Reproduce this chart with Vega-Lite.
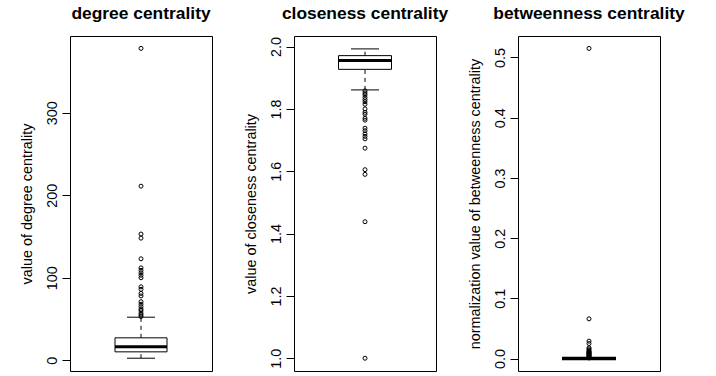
{
  "$schema": "https://vega.github.io/schema/vega-lite/v6.json",
  "background": "white",
  "padding": {"left": 18, "top": 4, "right": 0, "bottom": 0},
  "spacing": 82,
  "bounds": "flush",
  "config": {
    "font": "Liberation Sans",
    "view": {"stroke": "black", "strokeWidth": 1},
    "axisY": {
      "domain": false, "grid": false, "ticks": true, "tickSize": 8, "tickColor": "black", "tickWidth": 1,
      "labelAngle": 270, "labelAlign": "center", "labelBaseline": "alphabetic", "labelPadding": 6,
      "labelFontSize": 14.4, "labelColor": "black", "labelFont": "Liberation Sans", "labelFlush": false, "labelOverlap": false,
      "titleFontSize": 14.4, "titleFontWeight": "normal", "titleColor": "black", "titleFont": "Liberation Sans",
      "titlePadding": 14, "titleBaseline": "alphabetic", "minExtent": 25, "maxExtent": 25
    },
    "title": {"fontSize": 17.4, "fontWeight": "bold", "color": "black", "anchor": "middle", "frame": "group", "baseline": "alphabetic", "offset": 14, "font": "Liberation Sans"}
  },
  "datasets": {
    "degBox": [{"var": "degree", "q1": 10.2, "median": 16.3, "q3": 27.2, "lo": 2.5, "hi": 52.2}],
    "degOut": [
      {"var": "degree", "value": 378}, {"var": "degree", "value": 211}, {"var": "degree", "value": 153}, {"var": "degree", "value": 148},
      {"var": "degree", "value": 123}, {"var": "degree", "value": 112}, {"var": "degree", "value": 109}, {"var": "degree", "value": 106},
      {"var": "degree", "value": 103}, {"var": "degree", "value": 100}, {"var": "degree", "value": 89}, {"var": "degree", "value": 86},
      {"var": "degree", "value": 81}, {"var": "degree", "value": 78}, {"var": "degree", "value": 71}, {"var": "degree", "value": 68},
      {"var": "degree", "value": 65}, {"var": "degree", "value": 62}, {"var": "degree", "value": 60}, {"var": "degree", "value": 57},
      {"var": "degree", "value": 55}, {"var": "degree", "value": 53}
    ],
    "cloBox": [{"var": "closeness", "q1": 1.927, "median": 1.955, "q3": 1.971, "lo": 1.861, "hi": 1.9926}],
    "cloOut": [
      {"var": "closeness", "value": 1.858}, {"var": "closeness", "value": 1.851}, {"var": "closeness", "value": 1.845}, {"var": "closeness", "value": 1.837},
      {"var": "closeness", "value": 1.830}, {"var": "closeness", "value": 1.823}, {"var": "closeness", "value": 1.815}, {"var": "closeness", "value": 1.800},
      {"var": "closeness", "value": 1.789}, {"var": "closeness", "value": 1.783}, {"var": "closeness", "value": 1.770}, {"var": "closeness", "value": 1.764},
      {"var": "closeness", "value": 1.738}, {"var": "closeness", "value": 1.730}, {"var": "closeness", "value": 1.720}, {"var": "closeness", "value": 1.712},
      {"var": "closeness", "value": 1.704}, {"var": "closeness", "value": 1.674}, {"var": "closeness", "value": 1.605}, {"var": "closeness", "value": 1.590},
      {"var": "closeness", "value": 1.438}, {"var": "closeness", "value": 1.0}
    ],
    "betBox": [{"var": "betweenness", "q1": 0, "median": 0, "q3": 0, "lo": 0, "hi": 0}],
    "betOut": [
      {"var": "betweenness", "value": 0.515}, {"var": "betweenness", "value": 0.066}, {"var": "betweenness", "value": 0.029}, {"var": "betweenness", "value": 0.025},
      {"var": "betweenness", "value": 0.018}, {"var": "betweenness", "value": 0.016}, {"var": "betweenness", "value": 0.014}, {"var": "betweenness", "value": 0.012},
      {"var": "betweenness", "value": 0.011}, {"var": "betweenness", "value": 0.010}, {"var": "betweenness", "value": 0.009}, {"var": "betweenness", "value": 0.008},
      {"var": "betweenness", "value": 0.007}, {"var": "betweenness", "value": 0.006}, {"var": "betweenness", "value": 0.005}, {"var": "betweenness", "value": 0.004},
      {"var": "betweenness", "value": 0.003}, {"var": "betweenness", "value": 0.002}, {"var": "betweenness", "value": 0.001}
    ]
  },
  "hconcat": [
    {
      "width": 142, "height": 335,
      "title": "degree centrality",
      "layer": [
        {"data": {"name": "degBox"}, "mark": {"type": "rule", "strokeDash": [4, 4], "color": "black"},
         "encoding": {"x": {"field": "var", "type": "nominal", "scale": {"type": "point"}, "axis": null},
                      "y": {"field": "q3", "type": "quantitative", "title": "value of degree centrality", "scale": {"domain": [-13, 393], "nice": false, "zero": false}, "axis": {"values": [0, 100, 200, 300], "format": "d"}},
                      "y2": {"field": "hi"}}},
        {"data": {"name": "degBox"}, "mark": {"type": "rule", "strokeDash": [4, 4], "color": "black"},
         "encoding": {"x": {"field": "var", "type": "nominal", "scale": {"type": "point"}, "axis": null},
                      "y": {"field": "lo", "type": "quantitative", "title": "value of degree centrality"}, "y2": {"field": "q1"}}},
        {"data": {"name": "degBox"}, "mark": {"type": "tick", "size": 28, "thickness": 1, "color": "black", "opacity": 1},
         "encoding": {"x": {"field": "var", "type": "nominal", "scale": {"type": "point"}, "axis": null},
                      "y": {"field": "hi", "type": "quantitative", "title": "value of degree centrality"}}},
        {"data": {"name": "degBox"}, "mark": {"type": "tick", "size": 28, "thickness": 1, "color": "black", "opacity": 1},
         "encoding": {"x": {"field": "var", "type": "nominal", "scale": {"type": "point"}, "axis": null},
                      "y": {"field": "lo", "type": "quantitative", "title": "value of degree centrality"}}},
        {"data": {"name": "degBox"}, "mark": {"type": "bar", "width": 52, "fill": "white", "stroke": "black", "strokeWidth": 1},
         "encoding": {"x": {"field": "var", "type": "nominal", "scale": {"type": "point"}, "axis": null},
                      "y": {"field": "q1", "type": "quantitative", "title": "value of degree centrality"}, "y2": {"field": "q3"}}},
        {"data": {"name": "degBox"}, "mark": {"type": "tick", "size": 52, "thickness": 3, "color": "black", "opacity": 1},
         "encoding": {"x": {"field": "var", "type": "nominal", "scale": {"type": "point"}, "axis": null},
                      "y": {"field": "median", "type": "quantitative", "title": "value of degree centrality"}}},
        {"data": {"name": "degOut"}, "mark": {"type": "point", "shape": "circle", "filled": false, "color": "black", "size": 16, "strokeWidth": 1, "opacity": 1},
         "encoding": {"x": {"field": "var", "type": "nominal", "scale": {"type": "point"}, "axis": null},
                      "y": {"field": "value", "type": "quantitative", "title": "value of degree centrality"}}}
      ]
    },
    {
      "width": 142, "height": 335,
      "title": "closeness centrality",
      "layer": [
        {"data": {"name": "cloBox"}, "mark": {"type": "rule", "strokeDash": [4, 4], "color": "black"},
         "encoding": {"x": {"field": "var", "type": "nominal", "scale": {"type": "point"}, "axis": null},
                      "y": {"field": "q3", "type": "quantitative", "title": "value of closeness centrality", "scale": {"domain": [0.959, 2.034], "nice": false, "zero": false}, "axis": {"values": [1.0, 1.2, 1.4, 1.6, 1.8, 2.0], "format": ".1f"}},
                      "y2": {"field": "hi"}}},
        {"data": {"name": "cloBox"}, "mark": {"type": "rule", "strokeDash": [4, 4], "color": "black"},
         "encoding": {"x": {"field": "var", "type": "nominal", "scale": {"type": "point"}, "axis": null},
                      "y": {"field": "lo", "type": "quantitative", "title": "value of closeness centrality"}, "y2": {"field": "q1"}}},
        {"data": {"name": "cloBox"}, "mark": {"type": "tick", "size": 28, "thickness": 1, "color": "black", "opacity": 1},
         "encoding": {"x": {"field": "var", "type": "nominal", "scale": {"type": "point"}, "axis": null},
                      "y": {"field": "hi", "type": "quantitative", "title": "value of closeness centrality"}}},
        {"data": {"name": "cloBox"}, "mark": {"type": "tick", "size": 28, "thickness": 1, "color": "black", "opacity": 1},
         "encoding": {"x": {"field": "var", "type": "nominal", "scale": {"type": "point"}, "axis": null},
                      "y": {"field": "lo", "type": "quantitative", "title": "value of closeness centrality"}}},
        {"data": {"name": "cloBox"}, "mark": {"type": "bar", "width": 53, "fill": "white", "stroke": "black", "strokeWidth": 1},
         "encoding": {"x": {"field": "var", "type": "nominal", "scale": {"type": "point"}, "axis": null},
                      "y": {"field": "q1", "type": "quantitative", "title": "value of closeness centrality"}, "y2": {"field": "q3"}}},
        {"data": {"name": "cloBox"}, "mark": {"type": "tick", "size": 53, "thickness": 3, "color": "black", "opacity": 1},
         "encoding": {"x": {"field": "var", "type": "nominal", "scale": {"type": "point"}, "axis": null},
                      "y": {"field": "median", "type": "quantitative", "title": "value of closeness centrality"}}},
        {"data": {"name": "cloOut"}, "mark": {"type": "point", "shape": "circle", "filled": false, "color": "black", "size": 16, "strokeWidth": 1, "opacity": 1},
         "encoding": {"x": {"field": "var", "type": "nominal", "scale": {"type": "point"}, "axis": null},
                      "y": {"field": "value", "type": "quantitative", "title": "value of closeness centrality"}}}
      ]
    },
    {
      "width": 142, "height": 335,
      "title": "betweenness centrality",
      "layer": [
        {"data": {"name": "betBox"}, "mark": {"type": "tick", "size": 54, "thickness": 3, "color": "black", "opacity": 1},
         "encoding": {"x": {"field": "var", "type": "nominal", "scale": {"type": "point"}, "axis": null},
                      "y": {"field": "median", "type": "quantitative", "title": "normalization value of betweenness centrality", "scale": {"domain": [-0.0206, 0.5356], "nice": false, "zero": false}, "axis": {"values": [0, 0.1, 0.2, 0.3, 0.4, 0.5], "format": ".1f"}}}},
        {"data": {"name": "betBox"}, "mark": {"type": "bar", "width": 54, "fill": "white", "stroke": "black", "strokeWidth": 1},
         "encoding": {"x": {"field": "var", "type": "nominal", "scale": {"type": "point"}, "axis": null},
                      "y": {"field": "q1", "type": "quantitative", "title": "normalization value of betweenness centrality"}, "y2": {"field": "q3"}}},
        {"data": {"name": "betBox"}, "mark": {"type": "tick", "size": 54, "thickness": 3.5, "color": "black", "opacity": 1},
         "encoding": {"x": {"field": "var", "type": "nominal", "scale": {"type": "point"}, "axis": null},
                      "y": {"field": "median", "type": "quantitative", "title": "normalization value of betweenness centrality"}}},
        {"data": {"name": "betOut"}, "mark": {"type": "point", "shape": "circle", "filled": false, "color": "black", "size": 16, "strokeWidth": 1, "opacity": 1},
         "encoding": {"x": {"field": "var", "type": "nominal", "scale": {"type": "point"}, "axis": null},
                      "y": {"field": "value", "type": "quantitative", "title": "normalization value of betweenness centrality"}}}
      ]
    }
  ]
}
